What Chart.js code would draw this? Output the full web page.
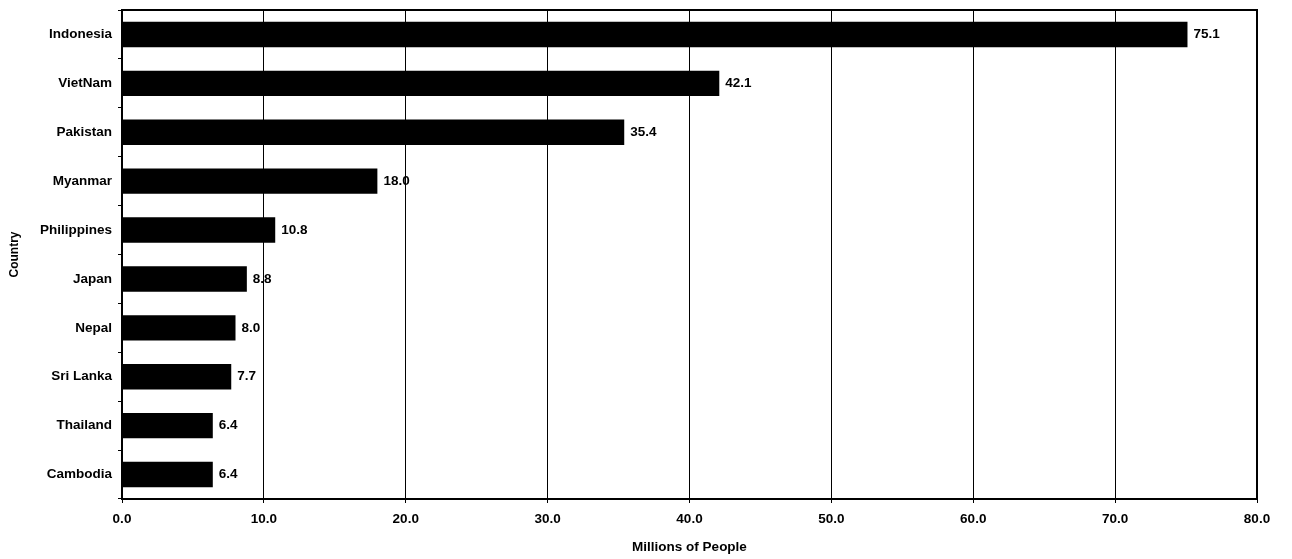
<!DOCTYPE html>
<html>
<head>
<meta charset="utf-8">
<script src="https://cdn.jsdelivr.net/npm/chart.js@4"></script>
<style>
html,body{margin:0;padding:0;background:#fff;}
#wrap{width:1292px;height:559px;}
</style>
</head>
<body>
<div id="wrap"><canvas id="c" width="1292" height="559"></canvas></div>
<script>
const categories = ["Indonesia","VietNam","Pakistan","Myanmar","Philippines","Japan","Nepal","Sri Lanka","Thailand","Cambodia"];
const values = [75.1, 42.1, 35.4, 18.0, 10.8, 8.8, 8.0, 7.7, 6.4, 6.4];
const xTicks = [0,10,20,30,40,50,60,70,80];

const FONT = "'Liberation Sans', Arial, sans-serif";

const borderPlugin = {
  id: 'plotBorder',
  afterDatasetsDraw(chart) {
    const {ctx, chartArea: a} = chart;
    ctx.save();
    ctx.strokeStyle = '#000';
    ctx.lineWidth = 2;
    ctx.strokeRect(a.left, a.top, a.right - a.left, a.bottom - a.top);
    ctx.restore();
  }
};

const labelPlugin = {
  id: 'barLabels',
  afterDatasetsDraw(chart) {
    const {ctx} = chart;
    const meta = chart.getDatasetMeta(0);
    ctx.save();
    ctx.font = "bold 13.5px " + FONT;
    ctx.fillStyle = '#000';
    ctx.textAlign = 'left';
    ctx.textBaseline = 'middle';
    meta.data.forEach((bar, i) => {
      ctx.fillText(values[i].toFixed(1), bar.x + 6, bar.y);
    });
    ctx.restore();
  }
};

new Chart(document.getElementById('c'), {
  type: 'bar',
  data: {
    labels: categories,
    datasets: [{
      data: values,
      backgroundColor: '#000',
      borderWidth: 0,
      barPercentage: 0.52,
      categoryPercentage: 1.0
    }]
  },
  options: {
    indexAxis: 'y',
    responsive: false,
    animation: false,
    devicePixelRatio: 1,
    layout: { padding: { left: 0, right: 35, top: 10, bottom: 0 } },
    plugins: { legend: { display: false }, tooltip: { enabled: false } },
    scales: {
      x: {
        min: 0, max: 80,
        afterBuildTicks(scale) { scale.ticks = xTicks.map(v => ({value: v})); },
        afterFit(scale) { scale.height = 60; scale.paddingLeft = 0; scale.paddingRight = 0; },
        grid: { color: '#000', lineWidth: 1, drawTicks: true, tickLength: 4, tickColor: '#000' },
        border: { color: '#000', width: 2 },
        ticks: {
          color: '#000', padding: 8,
          font: { family: FONT, size: 13.5, weight: 'bold' },
          callback: v => Number(v).toFixed(1),
          maxRotation: 0
        },
        title: {
          display: true, text: 'Millions of People', color: '#000',
          font: { family: FONT, size: 13.5, weight: 'bold' },
          padding: { top: 0, bottom: 4 }
        }
      },
      y: {
        afterFit(scale) { scale.width = 122; scale.paddingTop = 0; scale.paddingBottom = 0; },
        grid: { drawOnChartArea: false, drawTicks: true, tickLength: 4, tickColor: '#000', offset: true },
        border: { color: '#000', width: 2 },
        ticks: {
          color: '#000', padding: 6,
          font: { family: FONT, size: 13.5, weight: 'bold' }
        },
        title: {
          display: true, text: 'Country', color: '#000',
          font: { family: FONT, size: 12, weight: 'bold' },
          padding: { top: 7, bottom: 0 }
        }
      }
    }
  },
  plugins: [borderPlugin, labelPlugin]
});
</script>
</body>
</html>
